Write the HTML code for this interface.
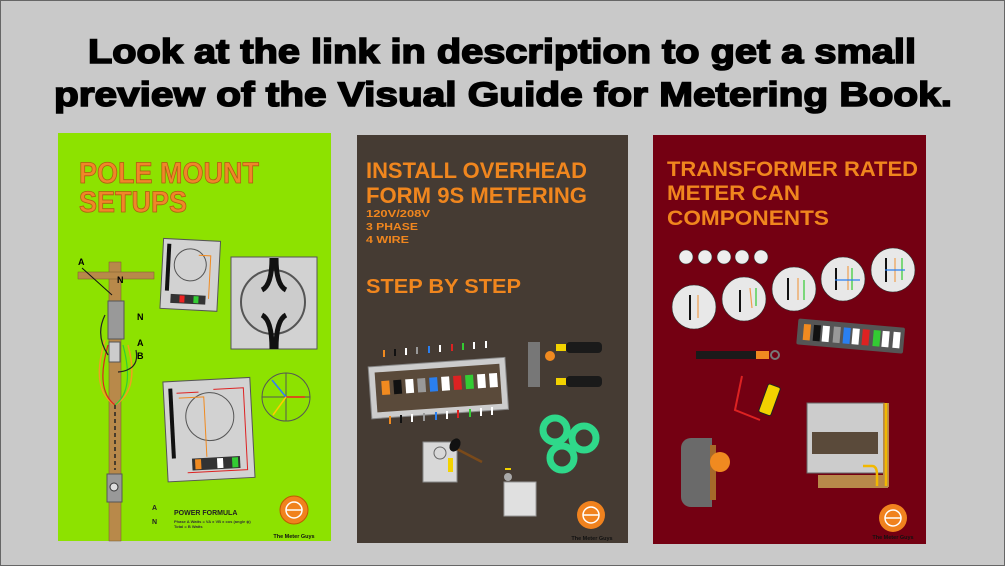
<!DOCTYPE html>
<html><head><meta charset="utf-8"><style>
html,body{margin:0;padding:0;background:#c9c9c9;}
svg{display:block;}
text{font-family:"Liberation Sans",sans-serif;font-weight:bold;}
</style></head><body>
<svg width="1005" height="566" viewBox="0 0 1005 566" xmlns="http://www.w3.org/2000/svg">
<rect x="0.5" y="0.5" width="1004" height="565" fill="#c9c9c9" stroke="#666"/>
<text x="88" y="63" font-size="34" textLength="828" lengthAdjust="spacingAndGlyphs" fill="#000" stroke="#000" stroke-width="1.6">Look at the link in description to get a small</text>
<text x="54" y="106" font-size="34" textLength="898" lengthAdjust="spacingAndGlyphs" fill="#000" stroke="#000" stroke-width="1.6">preview of the Visual Guide for Metering Book.</text>

<!-- Panel 1 green -->
<rect x="58" y="133" width="273" height="408" fill="#8de200"/>
<text x="79" y="183" font-size="30" fill="#f0862a" stroke="#b05a10" stroke-width="0.8" textLength="180" lengthAdjust="spacingAndGlyphs">POLE MOUNT</text>
<text x="79" y="212" font-size="30" fill="#f0862a" stroke="#b05a10" stroke-width="0.8" textLength="108" lengthAdjust="spacingAndGlyphs">SETUPS</text>
<rect x="109" y="262" width="12" height="279" fill="#b8894a" stroke="#7a5a2a" stroke-width="0.5"/>
<rect x="78" y="272" width="76" height="7" fill="#b8894a" stroke="#7a5a2a" stroke-width="0.5"/>
<rect x="108" y="301" width="16" height="38" fill="#999" stroke="#555"/>
<rect x="109" y="342" width="11" height="20" fill="#ccc" stroke="#555"/>
<rect x="107" y="474" width="15" height="28" fill="#999" stroke="#555"/>
<circle cx="114" cy="487" r="4" fill="#ddd" stroke="#333"/>
<path d="M105 340 Q90 390 115 405 Q140 390 128 345" fill="none" stroke="#f0a020" stroke-width="1.5"/>
<path d="M108 345 Q95 390 115 405" fill="none" stroke="#d22" stroke-width="1.2"/>
<path d="M123 345 Q135 390 115 405" fill="none" stroke="#3c3" stroke-width="1.2"/>
<path d="M105 315 Q95 335 108 355 M118 372 Q140 370 136 350" fill="none" stroke="#222" stroke-width="1.2"/>
<line x1="82" y1="268" x2="112" y2="295" stroke="#111" stroke-width="1"/>
<line x1="115" y1="405" x2="115" y2="470" stroke="#222" stroke-width="1.5" stroke-dasharray="4 3"/>
<text x="78" y="265" font-size="9" fill="#000">A</text>
<text x="117" y="283" font-size="9" fill="#000">N</text>
<text x="137" y="320" font-size="9" fill="#000">N</text>
<text x="137" y="346" font-size="9" fill="#000">A</text>
<text x="137" y="359" font-size="9" fill="#000">B</text>
<g transform="rotate(3 193 270)"><rect x="162" y="240" width="57" height="70" fill="#d2d2d2" stroke="#555"/><circle cx="190" cy="265" r="16" fill="none" stroke="#555"/><rect x="172" y="295" width="35" height="9" fill="#333"/><rect x="181" y="296" width="5" height="7" fill="#e22"/><rect x="195" y="296" width="5" height="7" fill="#3c3"/><path d="M168 245 V292" stroke="#111" stroke-width="4"/><path d="M198 255 H210 V298" stroke="#f08a20" fill="none"/></g>
<rect x="231" y="257" width="86" height="92" fill="#d2d2d2" stroke="#555"/>
<circle cx="273" cy="302" r="32" fill="#ccc" stroke="#555" stroke-width="2"/>
<path d="M272 258 Q272 285 262 290 M276 258 Q276 285 286 290 M262 315 Q272 320 272 349 M286 315 Q276 320 276 349" stroke="#111" stroke-width="5" fill="none"/>
<g transform="rotate(-3 240 420)"><rect x="165" y="378" width="87" height="100" fill="#d2d2d2" stroke="#555"/><circle cx="210" cy="415" r="24" fill="none" stroke="#555"/><path d="M172 385 V455" stroke="#111" stroke-width="4"/><path d="M178 390 H200 M215 388 H245 V470 H185" stroke="#d22" fill="none"/><path d="M180 395 H205 V455" stroke="#f08a20" fill="none"/><rect x="190" y="456" width="48" height="12" fill="#333"/><rect x="193" y="457" width="6" height="10" fill="#f08a20"/><rect x="215" y="457" width="6" height="10" fill="#fff"/><rect x="230" y="457" width="6" height="10" fill="#3c3"/></g>
<circle cx="286" cy="397" r="24" fill="none" stroke="#555"/><line x1="262" y1="397" x2="310" y2="397" stroke="#555"/><line x1="286" y1="373" x2="286" y2="421" stroke="#555"/>
<line x1="286" y1="397" x2="305" y2="397" stroke="#e22" stroke-width="1.5"/><line x1="286" y1="397" x2="272" y2="380" stroke="#37f" stroke-width="1.5"/><line x1="286" y1="397" x2="273" y2="415" stroke="#fc0" stroke-width="1.5"/>
<text x="174" y="515" font-size="7" fill="#222">POWER FORMULA</text>
<text x="174" y="523" font-size="4" font-weight="normal" fill="#333">Phase A Watts = VA x VB x cos (angle ϕ)</text>
<text x="174" y="528" font-size="4" font-weight="normal" fill="#333">Total = B Watts</text>
<text x="152" y="510" font-size="7" fill="#222">A</text><text x="152" y="524" font-size="7" fill="#222">N</text>
<circle cx="294" cy="510" r="14" fill="#f0821e" stroke="#c05a00"/>
<circle cx="294" cy="510" r="8" fill="none" stroke="#fff" stroke-width="1.5"/><line x1="286" y1="510" x2="302" y2="510" stroke="#fff" stroke-width="1.5"/>
<text x="294" y="538" font-size="5.5" text-anchor="middle" fill="#111">The Meter Guys</text>

<!-- Panel 2 dark -->
<rect x="357" y="135" width="271" height="408" fill="#453b33"/>
<g fill="#f0861e">
<text x="366" y="178" font-size="22" textLength="221" lengthAdjust="spacingAndGlyphs">INSTALL OVERHEAD</text>
<text x="366" y="203" font-size="22" textLength="221" lengthAdjust="spacingAndGlyphs">FORM 9S METERING</text>
<text x="366" y="217" font-size="10" textLength="64" lengthAdjust="spacingAndGlyphs">120V/208V</text>
<text x="366" y="230" font-size="10" textLength="52" lengthAdjust="spacingAndGlyphs">3 PHASE</text>
<text x="366" y="243" font-size="10" textLength="43" lengthAdjust="spacingAndGlyphs">4 WIRE</text>
<text x="366" y="293" font-size="20" textLength="155" lengthAdjust="spacingAndGlyphs">STEP BY STEP</text>
</g>
<g transform="rotate(-4 440 390)"><rect x="370" y="362" width="137" height="52" fill="#ccc" stroke="#888"/><rect x="376" y="368" width="125" height="40" fill="#5a4a3a"/>
<rect x="382" y="377" width="8" height="14" fill="#f08a20"/><rect x="394" y="377" width="8" height="14" fill="#111"/><rect x="406" y="377" width="8" height="14" fill="#fff"/><rect x="418" y="377" width="8" height="14" fill="#999"/><rect x="430" y="377" width="8" height="14" fill="#2a7ff0"/><rect x="442" y="377" width="8" height="14" fill="#fff"/><rect x="454" y="377" width="8" height="14" fill="#d22"/><rect x="466" y="377" width="8" height="14" fill="#3c3"/><rect x="478" y="377" width="8" height="14" fill="#fff"/><rect x="490" y="377" width="8" height="14" fill="#fff"/></g>
<g stroke-width="2">
<line x1="384" y1="350" x2="384" y2="357" stroke="#f08a20"/><line x1="395" y1="349" x2="395" y2="356" stroke="#111"/><line x1="406" y1="348" x2="406" y2="355" stroke="#fff"/><line x1="417" y1="347" x2="417" y2="354" stroke="#999"/><line x1="429" y1="346" x2="429" y2="353" stroke="#2a7ff0"/><line x1="440" y1="345" x2="440" y2="352" stroke="#fff"/><line x1="452" y1="344" x2="452" y2="351" stroke="#d22"/><line x1="463" y1="343" x2="463" y2="350" stroke="#3c3"/><line x1="474" y1="342" x2="474" y2="349" stroke="#fff"/><line x1="486" y1="341" x2="486" y2="348" stroke="#fff"/>
<line x1="390" y1="416" x2="390" y2="424" stroke="#f08a20"/><line x1="401" y1="415" x2="401" y2="423" stroke="#111"/><line x1="412" y1="414" x2="412" y2="422" stroke="#fff"/><line x1="424" y1="413" x2="424" y2="421" stroke="#999"/><line x1="436" y1="412" x2="436" y2="420" stroke="#2a7ff0"/><line x1="447" y1="411" x2="447" y2="419" stroke="#fff"/><line x1="458" y1="410" x2="458" y2="418" stroke="#d22"/><line x1="470" y1="409" x2="470" y2="417" stroke="#3c3"/><line x1="481" y1="408" x2="481" y2="416" stroke="#fff"/><line x1="492" y1="407" x2="492" y2="415" stroke="#fff"/>
</g>
<rect x="528" y="342" width="12" height="45" fill="#777"/>
<rect x="566" y="342" width="36" height="11" rx="4" fill="#1a1a1a"/><rect x="556" y="344" width="10" height="7" fill="#f2d200"/>
<rect x="566" y="376" width="36" height="11" rx="4" fill="#1a1a1a"/><rect x="556" y="378" width="10" height="7" fill="#f2d200"/>
<circle cx="550" cy="356" r="5" fill="#f08a20"/>
<circle cx="555" cy="430" r="12" fill="none" stroke="#2fd88a" stroke-width="7"/>
<circle cx="584" cy="438" r="12" fill="none" stroke="#2fd88a" stroke-width="7"/>
<circle cx="562" cy="458" r="12" fill="none" stroke="#2fd88a" stroke-width="7"/>
<rect x="423" y="442" width="34" height="40" fill="#d8d8d8" stroke="#888"/><circle cx="440" cy="453" r="6" fill="none" stroke="#666"/>
<rect x="448" y="458" width="5" height="14" fill="#f2d200"/>
<line x1="455" y1="448" x2="482" y2="462" stroke="#7a4a1a" stroke-width="2.5"/><ellipse cx="455" cy="445" rx="5" ry="7" fill="#111" transform="rotate(30 455 445)"/>
<rect x="504" y="482" width="32" height="34" fill="#e0e0e0" stroke="#999"/>
<circle cx="508" cy="477" r="4" fill="#aaa"/><rect x="505" y="468" width="6" height="2" fill="#f2d200"/>
<circle cx="591" cy="515" r="14" fill="#f0821e"/>
<circle cx="591" cy="515" r="8" fill="none" stroke="#fff" stroke-width="1.5"/><line x1="583" y1="515" x2="599" y2="515" stroke="#fff" stroke-width="1.5"/>
<text x="592" y="540" font-size="5.5" text-anchor="middle" fill="#111">The Meter Guys</text>

<!-- Panel 3 maroon -->
<rect x="653" y="135" width="273" height="409" fill="#740012"/>
<g fill="#f0861e">
<text x="667" y="176" font-size="21" textLength="251" lengthAdjust="spacingAndGlyphs">TRANSFORMER RATED</text>
<text x="667" y="200" font-size="21" textLength="133" lengthAdjust="spacingAndGlyphs">METER CAN</text>
<text x="667" y="225" font-size="21" textLength="162" lengthAdjust="spacingAndGlyphs">COMPONENTS</text>
</g>
<g fill="#eee" stroke="#333" stroke-width="0.6">
<circle cx="686" cy="257" r="7"/><circle cx="705" cy="257" r="7"/><circle cx="724" cy="257" r="7"/><circle cx="742" cy="257" r="7"/><circle cx="761" cy="257" r="7"/>
</g>
<g fill="#e8e8e8" stroke="#333" stroke-width="0.6">
<circle cx="694" cy="307" r="22"/><circle cx="744" cy="299" r="22"/><circle cx="794" cy="289" r="22"/><circle cx="843" cy="279" r="22"/><circle cx="893" cy="270" r="22"/>
</g>
<path d="M690 295 V320 M740 290 V312 M788 278 V300 M836 268 V290 M886 258 V282" stroke="#111" stroke-width="2"/>
<path d="M698 295 V318 M750 288 L752 308 M798 278 V300 M848 266 V290 M895 258 V282" stroke="#f0a050" stroke-width="1.2"/>
<path d="M756 288 V306 M804 280 V300 M852 268 V290 M902 258 V280" stroke="#3c3" stroke-width="1.2"/>
<path d="M835 280 H860 M885 270 H905" stroke="#2a7ff0" stroke-width="1.2"/>
<g transform="rotate(5 850 338)"><rect x="797" y="323" width="107" height="26" rx="2" fill="#555"/>
<rect x="803" y="328" width="7" height="16" fill="#f08a20"/><rect x="813" y="328" width="7" height="16" fill="#111"/><rect x="822" y="328" width="7" height="16" fill="#fff"/><rect x="833" y="328" width="7" height="16" fill="#999"/><rect x="843" y="328" width="7" height="16" fill="#2a7ff0"/><rect x="852" y="328" width="7" height="16" fill="#fff"/><rect x="862" y="328" width="7" height="16" fill="#d22"/><rect x="873" y="328" width="7" height="16" fill="#3c3"/><rect x="882" y="328" width="7" height="16" fill="#fff"/><rect x="893" y="328" width="7" height="16" fill="#fff"/></g>
<rect x="696" y="351" width="60" height="8" fill="#1a1a1a"/><rect x="756" y="351" width="13" height="8" fill="#f08a20"/><circle cx="775" cy="355" r="4" fill="none" stroke="#777" stroke-width="2"/>
<path d="M742 376 L735 410 L760 420" stroke="#d22" stroke-width="2" fill="none"/>
<g transform="rotate(20 770 400)"><rect x="763" y="385" width="13" height="30" rx="2" fill="#f2d200" stroke="#222"/></g>
<rect x="807" y="403" width="77" height="70" fill="#ccc" stroke="#666"/>
<rect x="818" y="475" width="70" height="13" fill="#b8894a"/><rect x="883" y="403" width="6" height="84" fill="#b8894a"/><line x1="886" y1="403" x2="886" y2="486" stroke="#f2b800" stroke-width="2.5"/>
<rect x="812" y="432" width="66" height="22" fill="#5a4a3a"/>
<path d="M863 466 H872 Q877 466 877 475 V486" stroke="#f2b800" stroke-width="2.5" fill="none"/>
<rect x="681" y="438" width="30" height="69" rx="10" fill="#6a6a6a"/><rect x="700" y="438" width="12" height="69" fill="#6a6a6a"/>
<rect x="710" y="445" width="6" height="55" fill="#a66a2a"/><circle cx="720" cy="462" r="10" fill="#f08a20"/>
<circle cx="893" cy="518" r="14" fill="#f0821e"/>
<circle cx="893" cy="518" r="8" fill="none" stroke="#fff" stroke-width="1.5"/><line x1="885" y1="518" x2="901" y2="518" stroke="#fff" stroke-width="1.5"/>
<text x="893" y="539" font-size="5.5" text-anchor="middle" fill="#111">The Meter Guys</text>
</svg>
</body></html>
